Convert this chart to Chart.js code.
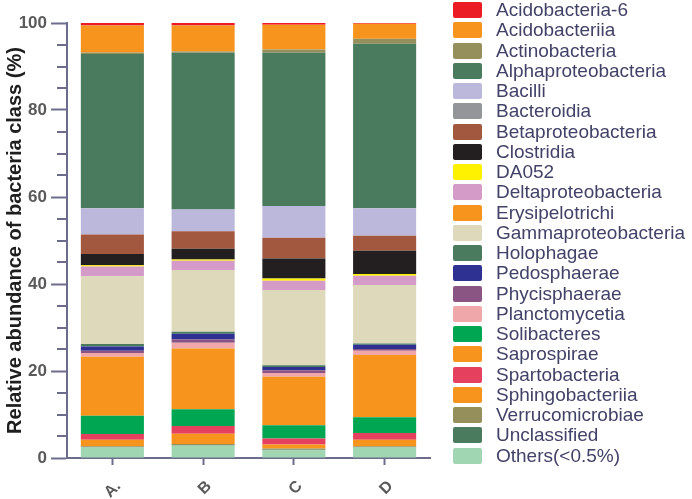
<!DOCTYPE html>
<html lang="en">
<head>
    <meta charset="UTF-8">
    <title>Relative abundance of bacteria class</title>
    <script src="https://cdn.jsdelivr.net/npm/chart.js"></script>
    <style>
        body { margin: 0; background: #fff; }
        .wrap { position: relative; width: 692px; height: 499px; }
        #legend { position: absolute; left: 453px; top: 0; font-family: 'Liberation Sans', Arial, sans-serif; }
        .row { display: flex; align-items: center; height: 20.26px; }
        .sw { width: 29px; height: 16px; border-radius: 2px; }
        .lbl { margin-left: 14px; font-size: 19px; color: #424268; white-space: nowrap; line-height: 20px; }
    </style>
</head>
<body>
    <div class="wrap">
        <canvas id="barChart" width="692" height="499"></canvas>
        <div id="legend"></div>
    </div>

    <script>
        // categories (samples)
        const categories = ['A.', 'B', 'C', 'D'];

        // relative abundance (%) per class, values for A., B, C, D
        const acidobacteria6 = [0.6, 0.55, 0.4, 0.2];
        const acidobacteriia = [6.2, 6.0, 5.7, 3.4];
        const actinobacteria = [0.3, 0.3, 0.75, 1.15];
        const alphaproteobacteria = [35.5, 36.0, 35.2, 37.85];
        const bacilli = [6.0, 5.0, 7.3, 6.3];
        const bacteroidia = [0, 0, 0, 0];
        const betaproteobacteria = [4.5, 4.05, 4.8, 3.45];
        const clostridia = [2.6, 2.45, 4.6, 5.35];
        const da052 = [0.3, 0.3, 0.5, 0.4];
        const deltaproteobacteria = [2.2, 2.15, 2.15, 2.15];
        const erysipelotrichi = [0, 0, 0, 0];
        const gammaproteobacteria = [15.6, 14.2, 17.3, 13.4];
        const holophagae = [0.55, 0.45, 0.4, 0.3];
        const pedosphaerae = [1.0, 1.3, 0.75, 1.0];
        const phycisphaerae = [0.5, 0.75, 0.6, 0.4];
        const planctomycetia = [0.85, 1.3, 0.9, 1.0];
        const solibacteres = [4.2, 3.85, 3.05, 3.6];
        const saprospirae = [13.6, 14.0, 11.1, 14.3];
        const spartobacteria = [1.3, 1.75, 1.4, 1.55];
        const sphingobacteriia = [1.5, 2.4, 0.9, 1.5];
        const verrucomicrobiae = [0.2, 0.2, 0.3, 0.2];
        const unclassified = [0.1, 0.1, 0.1, 0.1];
        const others = [2.4, 2.9, 1.8, 2.4];

        // legend order, top to bottom
        const classNames = ['Acidobacteria-6', 'Acidobacteriia', 'Actinobacteria', 'Alphaproteobacteria', 'Bacilli',
            'Bacteroidia', 'Betaproteobacteria', 'Clostridia', 'DA052', 'Deltaproteobacteria', 'Erysipelotrichi',
            'Gammaproteobacteria', 'Holophagae', 'Pedosphaerae', 'Phycisphaerae', 'Planctomycetia', 'Solibacteres',
            'Saprospirae', 'Spartobacteria', 'Sphingobacteriia', 'Verrucomicrobiae', 'Unclassified', 'Others(<0.5%)'];
        const classValues = [acidobacteria6, acidobacteriia, actinobacteria, alphaproteobacteria, bacilli,
            bacteroidia, betaproteobacteria, clostridia, da052, deltaproteobacteria, erysipelotrichi,
            gammaproteobacteria, holophagae, pedosphaerae, phycisphaerae, planctomycetia, solibacteres,
            saprospirae, spartobacteria, sphingobacteriia, verrucomicrobiae, unclassified, others];

        // stacking order in the bars, bottom to top
        const stackOrder = ['Others(<0.5%)', 'Unclassified', 'Verrucomicrobiae', 'Sphingobacteriia', 'Spartobacteria',
            'Solibacteres', 'Saprospirae', 'Planctomycetia', 'Phycisphaerae', 'Pedosphaerae', 'Holophagae',
            'Gammaproteobacteria', 'Erysipelotrichi', 'Deltaproteobacteria', 'DA052', 'Clostridia',
            'Betaproteobacteria', 'Bacteroidia', 'Bacilli', 'Alphaproteobacteria', 'Actinobacteria',
            'Acidobacteriia', 'Acidobacteria-6'];

        const classColors = {
            'Acidobacteria-6': '#ec1c24', 'Acidobacteriia': '#f7941d', 'Actinobacteria': '#958f5c',
            'Alphaproteobacteria': '#4a7b5e', 'Bacilli': '#bcb8dc', 'Bacteroidia': '#939598',
            'Betaproteobacteria': '#a2573f', 'Clostridia': '#231f20', 'DA052': '#fff200',
            'Deltaproteobacteria': '#d49ac8', 'Erysipelotrichi': '#f7941d', 'Gammaproteobacteria': '#ddd9ba',
            'Holophagae': '#4a7b5e', 'Pedosphaerae': '#2e3192', 'Phycisphaerae': '#8a5583',
            'Planctomycetia': '#f0a7a9', 'Solibacteres': '#00a651', 'Saprospirae': '#f7941d',
            'Spartobacteria': '#e5405e', 'Sphingobacteriia': '#f7941d', 'Verrucomicrobiae': '#958f5c',
            'Unclassified': '#4a7b5e', 'Others(<0.5%)': '#a1d6b3'
        };

        const axisColor = '#6c6c8c';
        const font = "'Liberation Sans', Arial, sans-serif";

        const datasets = stackOrder.map(name => ({
            label: name,
            data: classValues[classNames.indexOf(name)],
            backgroundColor: classColors[name],
            borderWidth: 0,
            barPercentage: 0.695,
            categoryPercentage: 1
        }));

        // minor ticks on the y axis (every 5 %)
        const minorTicks = {
            id: 'minorTicks',
            afterDraw(chart) {
                const y = chart.scales.y;
                const ctx = chart.ctx;
                ctx.save();
                ctx.strokeStyle = axisColor;
                ctx.lineWidth = 2;
                for (let v = 5; v < 100; v += 5) {
                    if (v % 20 === 0) continue;
                    const py = Math.round(y.getPixelForValue(v));
                    ctx.beginPath();
                    ctx.moveTo(y.right - 10, py);
                    ctx.lineTo(y.right, py);
                    ctx.stroke();
                }
                ctx.restore();
            }
        };

        const ctxBar = document.getElementById('barChart').getContext('2d');
        const barChart = new Chart(ctxBar, {
            type: 'bar',
            data: { labels: categories, datasets: datasets },
            options: {
                responsive: false,
                animation: false,
                devicePixelRatio: 1,
                layout: { padding: { top: 23, right: 262, bottom: 0, left: 0 } },
                plugins: { legend: { display: false }, tooltip: { enabled: false } },
                scales: {
                    x: {
                        stacked: true,
                        afterFit(scale) { scale.height = 41; },
                        border: { color: axisColor, width: 2 },
                        grid: { drawOnChartArea: false, offset: false, tickLength: 7, tickColor: axisColor, tickWidth: 2 },
                        ticks: {
                            minRotation: 45, maxRotation: 45, padding: 12, labelOffset: 6,
                            color: '#5a5a5a', font: { family: font, size: 16, weight: 'bold' }
                        }
                    },
                    y: {
                        stacked: true,
                        min: 0, max: 100,
                        afterFit(scale) { scale.width = 67; },
                        border: { color: axisColor, width: 2 },
                        grid: { drawOnChartArea: false, tickLength: 16, tickColor: axisColor, tickWidth: 2 },
                        ticks: {
                            stepSize: 20, padding: 4,
                            color: '#5a5a5a', font: { family: font, size: 17, weight: 'bold' }
                        },
                        title: {
                            display: true,
                            text: 'Relative abundance of bacteria class (%)',
                            color: '#1e1e1e',
                            font: { family: font, size: 20, weight: 'bold' },
                            padding: { top: 3, bottom: 0 }
                        }
                    }
                }
            },
            plugins: [minorTicks]
        });

        // legend built from the same names and colours
        const legend = document.getElementById('legend');
        classNames.forEach(name => {
            const row = document.createElement('div');
            row.className = 'row';
            row.innerHTML = '<div class="sw" style="background:' + classColors[name] + '"></div><span class="lbl"></span>';
            row.querySelector('.lbl').textContent = name;
            legend.appendChild(row);
        });
    </script>
</body>
</html>
